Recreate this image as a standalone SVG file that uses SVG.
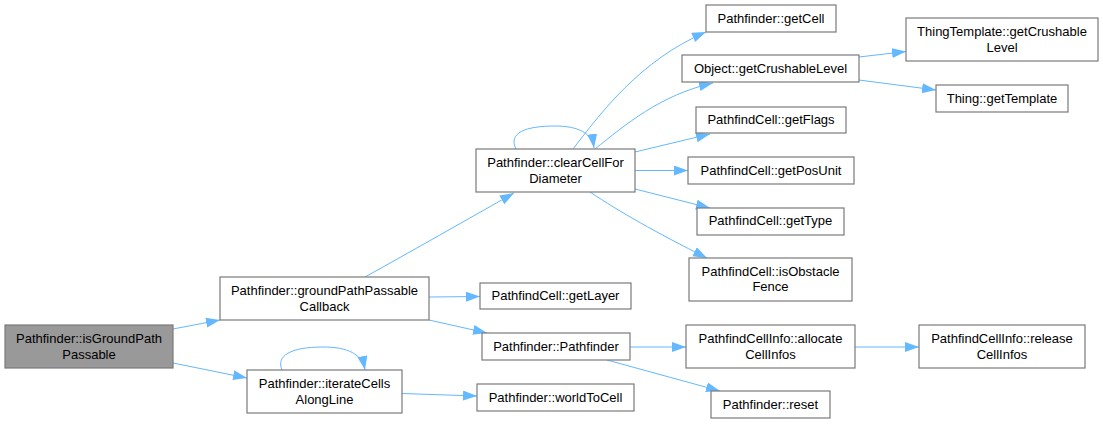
<svg xmlns="http://www.w3.org/2000/svg" width="1103" height="424" viewBox="0 0 1103 424">
<style>
.n rect{fill:#ffffff;stroke:#7a7a7a;stroke-width:1.2}
.n.root rect{fill:#999999}
.n text{font-family:"Liberation Sans",Arial,sans-serif;font-size:13px;fill:#000000;text-anchor:middle}
.e path{fill:none;stroke:#63b8ff;stroke-width:1}
</style>
<defs>
<marker id="ah" markerUnits="userSpaceOnUse" markerWidth="15" markerHeight="11" refX="14" refY="5" orient="auto">
<path d="M0,0 L14,5 L0,10 z" fill="#63b8ff" stroke="none"/>
</marker>
</defs>
<rect width="1103" height="424" fill="#ffffff"/>
<g id="edges" class="e">
<path marker-end="url(#ah)" d="M173,329 L220,320"/>
<path marker-end="url(#ah)" d="M173,363 L247,378"/>
<path marker-end="url(#ah)" d="M282,370 C276,356 290,347 323,347 C348,347 362,354 365,370"/>
<path marker-end="url(#ah)" d="M402,393.5 L477,396"/>
<path marker-end="url(#ah)" d="M365,277 C410,252 470,218 514,193"/>
<path marker-end="url(#ah)" d="M429,297 L480,296.5"/>
<path marker-end="url(#ah)" d="M429,320 L487,333"/>
<path marker-end="url(#ah)" d="M516,149 C508,133 525,126 555,126 C578,126 592,133 594,148"/>
<path marker-end="url(#ah)" d="M573,149 C600,114 640,60 706,32"/>
<path marker-end="url(#ah)" d="M595,149 C625,125 660,95 713,83"/>
<path marker-end="url(#ah)" d="M635,152 L710,134"/>
<path marker-end="url(#ah)" d="M635,170.5 L688,170.5"/>
<path marker-end="url(#ah)" d="M635,189 L710,208"/>
<path marker-end="url(#ah)" d="M590,192 C620,212 655,232 707,258"/>
<path marker-end="url(#ah)" d="M630,347 L686,347"/>
<path marker-end="url(#ah)" d="M607,360 L720,391"/>
<path marker-end="url(#ah)" d="M855,347 L919,347"/>
<path marker-end="url(#ah)" d="M859,57 L906,51.5"/>
<path marker-end="url(#ah)" d="M859,80 L936,90"/>
</g>
<g id="isGroundPathPassable" class="n root"><rect x="5" y="325" width="168" height="43"/><text x="89" y="343">Pathfinder::isGroundPath</text><text x="89" y="359">Passable</text></g>
<g id="groundPathPassableCallback" class="n"><rect x="220" y="277" width="209" height="43"/><text x="324.5" y="295">Pathfinder::groundPathPassable</text><text x="324.5" y="311">Callback</text></g>
<g id="iterateCellsAlongLine" class="n"><rect x="247" y="370" width="155" height="43"/><text x="324.5" y="388">Pathfinder::iterateCells</text><text x="324.5" y="404">AlongLine</text></g>
<g id="clearCellForDiameter" class="n"><rect x="476" y="149" width="159" height="43"/><text x="555.5" y="167">Pathfinder::clearCellFor</text><text x="555.5" y="183">Diameter</text></g>
<g id="getLayer" class="n"><rect x="480" y="283" width="151" height="26"/><text x="555.5" y="300">PathfindCell::getLayer</text></g>
<g id="Pathfinder" class="n"><rect x="482" y="333" width="148" height="27"/><text x="556" y="350.5">Pathfinder::Pathfinder</text></g>
<g id="worldToCell" class="n"><rect x="477" y="384" width="157" height="27"/><text x="555.5" y="401.5">Pathfinder::worldToCell</text></g>
<g id="getCell" class="n"><rect x="706" y="5" width="130" height="27"/><text x="771" y="22.5">Pathfinder::getCell</text></g>
<g id="getCrushableLevel" class="n"><rect x="682" y="55" width="177" height="27"/><text x="770.5" y="73">Object::getCrushableLevel</text></g>
<g id="getFlags" class="n"><rect x="696" y="107" width="150" height="26"/><text x="771" y="124">PathfindCell::getFlags</text></g>
<g id="getPosUnit" class="n"><rect x="688" y="157" width="166" height="27"/><text x="771" y="174.5">PathfindCell::getPosUnit</text></g>
<g id="getType" class="n"><rect x="697" y="208" width="147" height="27"/><text x="770.5" y="225">PathfindCell::getType</text></g>
<g id="isObstacleFence" class="n"><rect x="689" y="258" width="163" height="43"/><text x="770.5" y="275.5">PathfindCell::isObstacle</text><text x="770.5" y="291">Fence</text></g>
<g id="allocateCellInfos" class="n"><rect x="686" y="325" width="169" height="43"/><text x="770.5" y="343">PathfindCellInfo::allocate</text><text x="770.5" y="359">CellInfos</text></g>
<g id="reset" class="n"><rect x="711" y="391" width="119" height="27"/><text x="770.5" y="408.5">Pathfinder::reset</text></g>
<g id="ThingTemplate_getCrushableLevel" class="n"><rect x="906" y="18" width="192" height="43"/><text x="1002" y="36">ThingTemplate::getCrushable</text><text x="1002" y="52">Level</text></g>
<g id="getTemplate" class="n"><rect x="936" y="85" width="132" height="27"/><text x="1002" y="102.5">Thing::getTemplate</text></g>
<g id="releaseCellInfos" class="n"><rect x="919" y="325" width="166" height="43"/><text x="1002" y="343">PathfindCellInfo::release</text><text x="1002" y="359">CellInfos</text></g>
</svg>
